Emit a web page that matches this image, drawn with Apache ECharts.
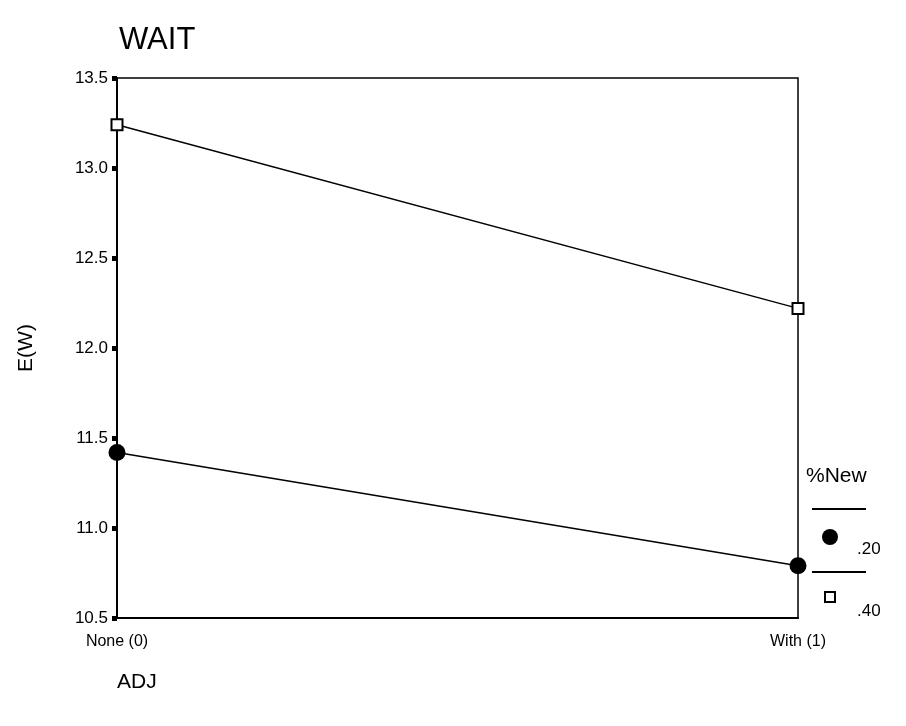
<!DOCTYPE html>
<html><head><meta charset="utf-8">
<script src="https://cdn.jsdelivr.net/npm/echarts@6/dist/echarts.min.js"></script>
<style>html,body{margin:0;padding:0;background:#fff}#c{width:906px;height:726px}</style>
</head><body><div id="c"></div>
<script>
const categories = ['None (0)', 'With (1)'];
const new20 = [11.42, 10.79];
const new40 = [13.24, 12.22];
const yTicks = [10.5, 11.0, 11.5, 12.0, 12.5, 13.0, 13.5];
const legendLabels = ['.20', '.40'];

const chart = echarts.init(document.getElementById('c'));
const F = 'Liberation Sans, Arial, sans-serif';
chart.setOption({
  animation: false,
  backgroundColor: '#fff',
  title: { text: 'WAIT', left: 114, top: 20, textStyle: { fontFamily: F, fontSize: 31, fontWeight: 'normal', color: '#000' } },
  grid: { left: 117, right: 108, top: 78, bottom: 108, show: true, borderColor: '#000', borderWidth: 1.5 },
  xAxis: {
    type: 'category', data: categories, boundaryGap: false,
    axisLine: { lineStyle: { color: '#000', width: 2 } },
    axisTick: { show: false },
    axisLabel: { color: '#000', fontFamily: F, fontSize: 16, margin: 16 },
    name: 'ADJ', nameLocation: 'start', nameGap: 0,
    nameTextStyle: { color: '#000', fontFamily: F, fontSize: 21, align: 'left', verticalAlign: 'top', padding: [54, 0, 0, 0] }
  },
  yAxis: {
    type: 'value', min: 10.5, max: 13.5, interval: 0.5,
    axisLine: { show: true, lineStyle: { color: '#000', width: 2 } },
    axisTick: { show: true, length: 5, lineStyle: { color: '#000', width: 5 } },
    splitLine: { show: false },
    axisLabel: { color: '#000', fontFamily: F, fontSize: 17, margin: 9, formatter: v => v.toFixed(1) },
    name: 'E(W)', nameLocation: 'middle', nameGap: 80, nameRotate: 90,
    nameTextStyle: { color: '#000', fontFamily: F, fontSize: 21 }
  },
  series: [
    { name: '.20', type: 'line', data: new20, symbol: 'circle', symbolSize: 17,
      itemStyle: { color: '#000' }, lineStyle: { color: '#000', width: 1.5 } },
    { name: '.40', type: 'line', data: new40, symbol: 'rect', symbolSize: 11,
      itemStyle: { color: '#fff', borderColor: '#000', borderWidth: 2 }, lineStyle: { color: '#000', width: 1.5 } }
  ],
  graphic: [
    { type: 'text', left: 806, top: 466, style: { text: '%New', font: '21px ' + F, fill: '#000' } },
    { type: 'line', shape: { x1: 812, y1: 509, x2: 866, y2: 509 }, style: { stroke: '#000', lineWidth: 2 } },
    { type: 'circle', shape: { cx: 830, cy: 537, r: 8 }, style: { fill: '#000' } },
    { type: 'text', left: 857, top: 541, style: { text: legendLabels[0], font: '17px ' + F, fill: '#000' } },
    { type: 'line', shape: { x1: 812, y1: 572, x2: 866, y2: 572 }, style: { stroke: '#000', lineWidth: 2 } },
    { type: 'rect', shape: { x: 825, y: 592, width: 10, height: 10 }, style: { fill: '#fff', stroke: '#000', lineWidth: 2 } },
    { type: 'text', left: 857, top: 603, style: { text: legendLabels[1], font: '17px ' + F, fill: '#000' } }
  ]
});
</script></body></html>
